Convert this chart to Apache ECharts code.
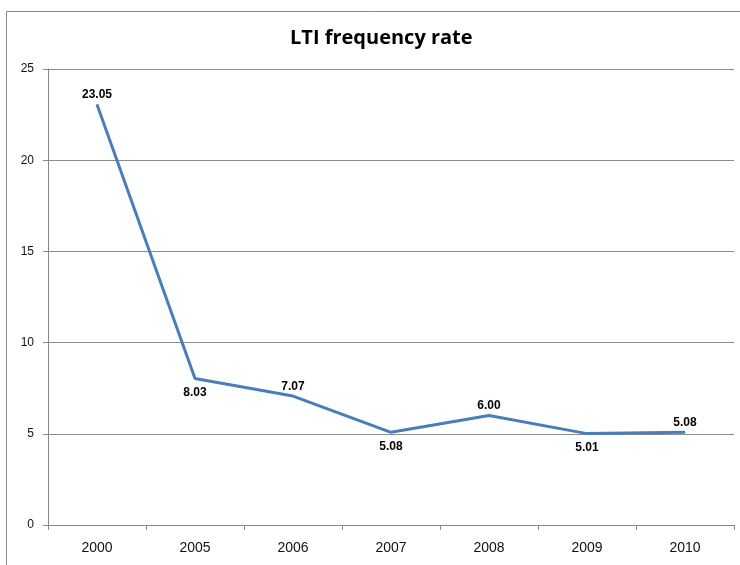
<!DOCTYPE html>
<html>
<head>
<meta charset="utf-8">
<script src="https://cdn.jsdelivr.net/npm/echarts@6/dist/echarts.min.js"></script>
<style>
  html, body { margin: 0; padding: 0; background: #fff; }
  #chart { width: 740px; height: 565px; }
</style>
</head>
<body>
<div id="chart"></div>
<script>
const years = ['2000', '2005', '2006', '2007', '2008', '2009', '2010'];
const ltiRate = [23.05, 8.03, 7.07, 5.08, 6.00, 5.01, 5.08];
// where each value label sits, as in the original
const labelSide = ['top', 'bottom', 'top', 'bottom', 'top', 'bottom', 'top'];

const myChart = echarts.init(document.getElementById('chart'));

const points = ltiRate.map((v, i) => ({
  value: v,
  label: { position: labelSide[i], distance: labelSide[i] === 'top' ? 3 : 8 },
}));

myChart.setOption({
  animation: false,
  title: {
    text: 'LTI frequency rate',
    left: 285,
    top: 23,
    textStyle: { fontFamily: 'Open Sans', fontWeight: 'bold', fontSize: 20, color: '#000' },
  },
  grid: { left: 48, right: 6, top: 69, bottom: 40 },
  xAxis: {
    type: 'category',
    data: years,
    boundaryGap: true,
    axisLine: { lineStyle: { color: '#888', width: 1 } },
    axisTick: { show: true, length: 5, lineStyle: { color: '#888' } },
    axisLabel: { color: '#111', fontFamily: 'Liberation Sans', fontSize: 14, margin: 16 },
  },
  yAxis: {
    type: 'value',
    min: 0,
    max: 25,
    interval: 5,
    axisLine: { show: true, lineStyle: { color: '#888', width: 1 } },
    axisTick: { show: true, length: 5, lineStyle: { color: '#888' } },
    splitLine: { lineStyle: { color: '#8c8c8c', width: 1 } },
    axisLabel: { color: '#111', fontFamily: 'Liberation Sans', fontSize: 12, margin: 14 },
  },
  series: [{
    type: 'line',
    data: points,
    symbol: 'circle',
    symbolSize: 1,
    showSymbol: true,
    itemStyle: { color: '#4a7ebb' },
    lineStyle: { color: '#4a7ebb', width: 3 },
    label: {
      show: true,
      formatter: (p) => p.value.toFixed(2),
      color: '#000',
      fontFamily: 'Liberation Sans',
      fontWeight: 'bold',
      fontSize: 12,
    },
  }],
  graphic: [
    {
      type: 'polyline',
      shape: { points: [[6.5, 565], [6.5, 11.5], [740, 11.5]] },
      style: { stroke: '#888', lineWidth: 1, fill: null },
    },
  ],
});
</script>
</body>
</html>
